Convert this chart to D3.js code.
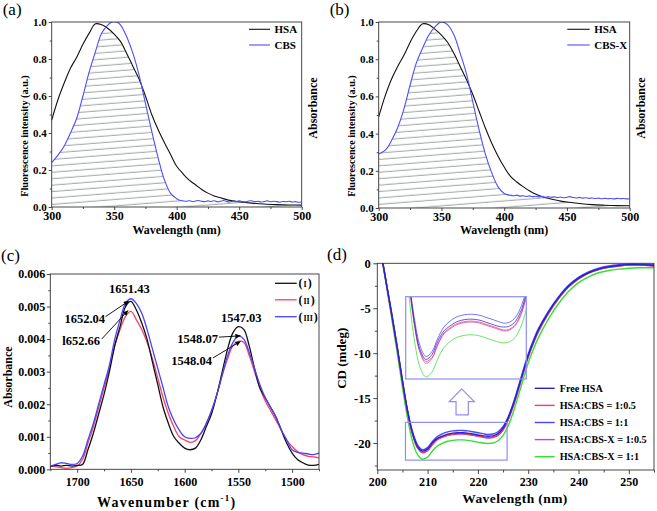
<!DOCTYPE html>
<html><head><meta charset="utf-8">
<script src="https://cdn.jsdelivr.net/npm/d3@7"></script>
<style>body{margin:0;background:#fff}svg{display:block}</style>
</head><body><svg id="c" width="657" height="511"></svg>
<script>
// ---------------- DATA ----------------
// Panel (a)
const wlA = [300,305,310,315,320,325,330,335,340,345,350,355,360,365,370,375,380,385,390,395,400,405,410,415,420,425,430,435,440,445,450,460,470,480,490,500];
const hsaA = [0.47,0.58,0.67,0.75,0.81,0.88,0.94,0.99,0.985,0.965,0.935,0.895,0.83,0.76,0.69,0.60,0.50,0.42,0.35,0.285,0.22,0.18,0.145,0.12,0.095,0.075,0.06,0.05,0.04,0.033,0.028,0.021,0.016,0.013,0.011,0.01];
const wlCbsA = [300,305,310,315,320,325,330,335,340,345,348,352,355,360,365,370,375,380,385,390,395,400,402.5,405,407.5,410,412.5,415,417.5,420,422.5,425,427.5,430,432.5,435,437.5,440,442.5,445,447.5,450,452.5,455,457.5,460,462.5,465,467.5,470,472.5,475,477.5,480,482.5,485,487.5,490,492.5,495,497.5,500];
const cbsA = [0.24,0.28,0.33,0.40,0.48,0.60,0.73,0.84,0.94,0.985,1.0,1.0,0.985,0.92,0.83,0.71,0.56,0.41,0.27,0.15,0.075,0.045,0.036,0.033,0.031,0.034,0.030,0.032,0.035,0.031,0.029,0.033,0.030,0.034,0.028,0.031,0.035,0.030,0.027,0.032,0.029,0.033,0.030,0.028,0.032,0.034,0.029,0.031,0.027,0.030,0.033,0.028,0.031,0.029,0.026,0.030,0.028,0.031,0.027,0.029,0.026,0.027];
// Panel (b)
const wlB = [300,305,310,315,320,325,330,335,340,345,350,355,360,365,370,375,380,385,390,395,400,405,410,415,420,425,430,435,440,445,450,460,470,480,490,500];
const hsaB = [0.49,0.60,0.69,0.76,0.82,0.89,0.95,0.99,0.985,0.96,0.93,0.89,0.83,0.76,0.69,0.61,0.52,0.43,0.35,0.28,0.22,0.17,0.14,0.115,0.093,0.075,0.062,0.052,0.044,0.037,0.032,0.024,0.018,0.015,0.013,0.0125];
const wlCbsB = [300,305,307.5,310,315,320,325,330,335,340,345,350,355,360,365,370,375,380,385,390,395,400,402.5,405,407.5,410,412.5,415,417.5,420,422.5,425,427.5,430,432.5,435,437.5,440,442.5,445,447.5,450,452.5,455,457.5,460,462.5,465,467.5,470,472.5,475,477.5,480,482.5,485,487.5,490,492.5,495,497.5,500];
const cbsB = [0.29,0.31,0.33,0.36,0.43,0.53,0.66,0.78,0.86,0.93,0.975,1.0,0.985,0.93,0.83,0.72,0.57,0.42,0.29,0.19,0.115,0.078,0.072,0.068,0.066,0.069,0.064,0.066,0.062,0.065,0.061,0.063,0.060,0.062,0.058,0.061,0.057,0.060,0.056,0.059,0.055,0.058,0.061,0.056,0.054,0.057,0.053,0.055,0.052,0.054,0.051,0.053,0.050,0.052,0.050,0.051,0.049,0.052,0.050,0.051,0.049,0.050];
const ticksAB_x = [300,350,400,450,500];
const ticksAB_y = [0,0.2,0.4,0.6,0.8,1.0];

// Panel (c)
const wnC = [1725,1720,1715,1710,1705,1700,1695,1690,1685,1680,1675,1670,1665,1660,1655,1650,1645,1640,1635,1630,1625,1620,1615,1610,1605,1600,1595,1590,1585,1580,1575,1570,1565,1560,1555,1550,1545,1540,1535,1530,1525,1520,1515,1510,1505,1500,1495,1490,1485,1480,1475];
const absI = [0.00008,0.00012,0.0001,0.00012,0.0001,0.00012,0.00015,0.0006,0.0011,0.0017,0.0023,0.003,0.0038,0.0044,0.0050,0.00516,0.0049,0.0045,0.0040,0.0033,0.0026,0.0019,0.0014,0.0010,0.0008,0.00065,0.0006,0.00065,0.0009,0.0013,0.0017,0.0023,0.003,0.0037,0.0042,0.00438,0.0043,0.0038,0.0031,0.0025,0.0022,0.0019,0.0016,0.0012,0.0008,0.0005,0.0003,0.0002,0.00013,0.00012,0.00015];
const absII = [0.0001,0.00008,0.00005,0.00003,0.00005,0.0001,0.0003,0.0008,0.0013,0.0019,0.0025,0.0031,0.0038,0.0043,0.0047,0.00485,0.0046,0.0043,0.0039,0.0034,0.0028,0.0022,0.0017,0.0013,0.001,0.0009,0.00083,0.00088,0.0011,0.0014,0.0018,0.0023,0.0029,0.0034,0.0038,0.00393,0.0039,0.0035,0.003,0.0025,0.0021,0.0018,0.0015,0.0012,0.0009,0.0007,0.00055,0.00045,0.0004,0.00038,0.00035];
const absIII = [0.0001,0.00015,0.0002,0.00018,0.00015,0.00018,0.0004,0.0009,0.0014,0.002,0.0026,0.0032,0.004,0.0046,0.0051,0.00524,0.0051,0.0048,0.0043,0.0037,0.0031,0.0025,0.0019,0.0015,0.0012,0.001,0.00095,0.00097,0.0011,0.0014,0.0018,0.0023,0.0029,0.0035,0.0039,0.0041,0.004,0.0036,0.0031,0.0026,0.0022,0.0019,0.0016,0.0012,0.0009,0.0006,0.00052,0.0005,0.00047,0.00045,0.0005];
const seriesC = ["(I)","(II)","(III)"];
const ticksC_x = [1700,1650,1600,1550,1500];
const ticksC_y = [0,0.001,0.002,0.003,0.004,0.005,0.006];
// peak labels: text, peak position, label anchor (data units)
const peakLabels = ["1651.43","1652.04","l652.66","1547.03","1548.07","1548.04"];
const peakX = [1651.43,1652.04,1652.66,1547.03,1548.07,1548.04];
const peakY = [0.00524,0.00517,0.00488,0.00438,0.0041,0.00393];
const labelX = [1651.43,1674.1,1678.7,1547.3,1569,1574.6];
const labelY = [0.00542,0.00449,0.00382,0.00453,0.00388,0.0032];
const arrowFromX = [null,1673.6,1677.2,null,1568.1,1573.7];
const arrowFromY = [null,0.00469,0.0040,null,0.00406,0.00342];

// Panel (d)
const wlD = [200,201,202,203,204,205,206,207,208,209,210,211,212,213,214,215,216,217,218,219,220,221,222,223,224,225,226,227,228,229,230,231,232,234,236,238,240,242,244,246,248,250,252,255];
const cdFree = [3.0,0.3,-2.9,-6.1,-9.5,-13.1,-16.4,-18.9,-20.4,-20.9,-20.65,-19.95,-19.45,-19.2,-19.0,-18.9,-18.85,-18.85,-18.9,-19.0,-19.1,-19.2,-19.25,-19.2,-18.95,-18.35,-17.25,-15.75,-13.95,-12.05,-10.25,-8.75,-7.45,-5.45,-3.85,-2.55,-1.65,-1.05,-0.65,-0.4,-0.25,-0.15,-0.15,-0.25];
const cdCbs05 = [3.0,0.3,-2.9,-6.2,-9.6,-13.2,-16.5,-19.0,-20.5,-21.0,-20.8,-20.1,-19.55,-19.3,-19.1,-19.0,-18.95,-18.95,-19.0,-19.1,-19.2,-19.3,-19.4,-19.35,-19.1,-18.5,-17.4,-15.9,-14.1,-12.2,-10.4,-8.9,-7.6,-5.6,-3.95,-2.65,-1.75,-1.1,-0.7,-0.45,-0.3,-0.2,-0.2,-0.3];
const cdCbs1 = [3.0,0.35,-2.8,-6.0,-9.4,-13.0,-16.3,-18.7,-20.2,-20.75,-20.5,-19.8,-19.25,-18.95,-18.75,-18.65,-18.6,-18.6,-18.65,-18.75,-18.85,-18.95,-19.05,-19.0,-18.75,-18.15,-17.1,-15.6,-13.8,-11.9,-10.1,-8.6,-7.3,-5.35,-3.75,-2.45,-1.55,-0.95,-0.55,-0.3,-0.15,-0.08,-0.08,-0.15];
const cdCbsx05 = [3.0,0.3,-2.9,-6.2,-9.6,-13.2,-16.5,-19.0,-20.55,-21.1,-20.85,-20.15,-19.6,-19.35,-19.15,-19.05,-19.0,-19.0,-19.05,-19.15,-19.25,-19.35,-19.45,-19.4,-19.15,-18.55,-17.45,-15.95,-14.15,-12.25,-10.45,-8.95,-7.65,-5.6,-3.95,-2.65,-1.75,-1.1,-0.7,-0.45,-0.3,-0.2,-0.2,-0.3];
const cdCbsx1 = [3.0,0.2,-3.2,-6.6,-10.1,-13.8,-17.2,-19.8,-21.3,-21.8,-21.55,-20.85,-20.3,-20.0,-19.8,-19.7,-19.65,-19.65,-19.7,-19.8,-19.9,-20.0,-20.05,-20.0,-19.75,-19.15,-18.1,-16.6,-14.8,-12.9,-11.1,-9.6,-8.3,-6.2,-4.5,-3.15,-2.15,-1.5,-1.05,-0.8,-0.65,-0.55,-0.5,-0.5];
const seriesD = ["Free HSA","HSA:CBS = 1:0.5","HSA:CBS = 1:1","HSA:CBS-X = 1:0.5","HSA:CBS-X = 1:1"];
const ticksD_x = [200,210,220,230,240,250];
const ticksD_y = [0,-5,-10,-15,-20];
const zoomWin = [205.6,225.8,-21.9,-17.7];      // region magnified in inset
const bigArrowX = [216.78,219.28,218.09,218.09,215.65,215.65,214.31];
const bigArrowY = [-13.98,-15.39,-15.39,-16.87,-16.87,-15.39,-15.39];

// ---------------- DRAWING ----------------
const FONT = "'Liberation Serif','Times New Roman',serif";
const svg = d3.select("#c");
const defs = svg.append("defs");
const cv = d3.curveCatmullRom.alpha(0.5);
const AX = "#333";

function range(a,b,s){const r=[];for(let v=a;v<=b+1e-9;v+=s)r.push(+v.toFixed(6));return r;}

function axes(g, x, y, o){
  const yb = y.range()[0], xl = x.range()[0];
  const xr = x.range()[1], yt = y.range()[1];
  const ax = g.append("g").attr("transform",`translate(0,${yb})`)
    .call(d3.axisBottom(x).tickValues(o.xMajor).tickSize(o.tick).tickPadding(o.xPad).tickFormat(o.xFmt));
  const am = g.append("g").attr("transform",`translate(0,${yb})`)
    .call(d3.axisBottom(x).tickValues(o.xMinor).tickSize(o.minor).tickFormat(""));
  const ay = g.append("g").attr("transform",`translate(${xl},0)`)
    .call(d3.axisLeft(y).tickValues(o.yMajor).tickSize(o.tick).tickPadding(o.yPad).tickFormat(o.yFmt));
  const aym = g.append("g").attr("transform",`translate(${xl},0)`)
    .call(d3.axisLeft(y).tickValues(o.yMinor).tickSize(o.minor).tickFormat(""));
  [ax,am,ay,aym].forEach(a=>{a.select(".domain").remove();a.selectAll("line").attr("stroke",AX).attr("stroke-width",0.9);});
  ax.selectAll("text").attr("font-family",FONT).attr("font-weight","bold").attr("font-size",o.xFont).attr("fill","#000");
  ay.selectAll("text").attr("font-family",FONT).attr("font-weight","bold").attr("font-size",o.yFont).attr("fill","#000");
  g.append("rect").attr("x",xl).attr("y",yt).attr("width",xr-xl).attr("height",yb-yt)
    .attr("fill","none").attr("stroke",AX).attr("stroke-width",0.9);
}
function txt(g,s,x,y,size,opt={}){
  const t=g.append("text").attr("x",x).attr("y",y).attr("font-family",FONT).attr("font-size",size)
    .attr("font-weight",opt.normal?"normal":"bold").attr("text-anchor",opt.anchor||"start").attr("fill","#000").text(s);
  if(opt.rot) t.attr("x",null).attr("y",null).attr("transform",`translate(${x},${y}) rotate(-90)`);
  if(opt.ls) t.attr("letter-spacing",opt.ls);
  return t;
}
function clipRect(id,x,y){
  defs.append("clipPath").attr("id",id).append("rect")
   .attr("x",x.range()[0]).attr("y",y.range()[1])
   .attr("width",x.range()[1]-x.range()[0]).attr("height",y.range()[0]-y.range()[1]);
}

// hatch pattern
const pat = defs.append("pattern").attr("id","hatch").attr("patternUnits","userSpaceOnUse")
  .attr("width",80).attr("height",6.4).attr("patternTransform","rotate(-4.5)");
pat.append("line").attr("x1",0).attr("x2",80).attr("y1",3).attr("y2",3).attr("stroke","#7b8686").attr("stroke-width",0.8);

// ---- panels (a) and (b)
function fluoPanel(id, left, right, top, bottom, wl, hsa, wlC, cbs, name, label, lx0, lx1){
  const g = svg.append("g");
  const x = d3.scaleLinear().domain([300,500]).range([left,right]);
  const y = d3.scaleLinear().domain([0,1]).range([bottom,top]);
  clipRect("plot"+id,x,y);
  const dH = wl.map((w,i)=>[w,hsa[i]]);
  const dC = wlC.map((w,i)=>[w,cbs[i]]);
  const area = d3.area().x(d=>x(d[0])).y0(y(0)).y1(d=>y(d[1])).curve(cv);
  defs.append("clipPath").attr("id","h1"+id).append("path").attr("d",area(dH));
  defs.append("clipPath").attr("id","h2"+id).append("path").attr("d",area(dC));
  g.append("g").attr("clip-path",`url(#h1${id})`).append("g").attr("clip-path",`url(#h2${id})`)
    .append("rect").attr("x",left).attr("y",top).attr("width",right-left).attr("height",bottom-top).attr("fill","url(#hatch)");
  const line = d3.line().x(d=>x(d[0])).y(d=>y(d[1])).curve(cv);
  const pg = g.append("g").attr("clip-path",`url(#plot${id})`);
  pg.append("path").attr("d",line(dH)).attr("fill","none").attr("stroke","#111").attr("stroke-width",1.1);
  pg.append("path").attr("d",line(dC)).attr("fill","none").attr("stroke","#4d4dff").attr("stroke-width",1.1);
  axes(g,x,y,{xMajor:ticksAB_x,xMinor:range(325,475,50),yMajor:ticksAB_y,yMinor:range(0.1,0.9,0.2),
    tick:3,minor:2,xPad:1.5,yPad:2,xFont:12,yFont:11,xFmt:d=>d,yFmt:d3.format(".1f")});
  // legend
  [["HSA","#111"],[name,"#4d4dff"]].forEach((s,i)=>{
    const ly = 29.3+i*15.7;
    g.append("line").attr("x1",lx0).attr("x2",lx1).attr("y1",ly).attr("y2",ly).attr("stroke",s[1]).attr("stroke-width",1.1);
    txt(g,s[0],lx1+4.5,ly+3.8,11);
  });
  txt(g,"Wavelength (nm)",(left+right)/2,233.5,12,{anchor:"middle"});
  txt(g,"Fluorescence intensity (a.u.)",left-24.2,136,10.2,{anchor:"middle",rot:true});
  txt(g,"Absorbance",right+14.8,108,12,{anchor:"middle",rot:true});
  txt(g,label,left-49,15,17,{normal:true});
}
fluoPanel("a",51.7,301.7,22,207,wlA,hsaA,wlCbsA,cbsA,"CBS","(a)",249,270);
fluoPanel("b",378.7,629.7,22,208,wlB,hsaB,wlCbsB,cbsB,"CBS-X","(b)",567.3,589.7);

// ---- panel (c)
{
  const g = svg.append("g");
  const x = d3.scaleLinear().domain([1725,1475]).range([50.3,319]);
  const y = d3.scaleLinear().domain([0,0.006]).range([469.3,274]);
  clipRect("plotc",x,y);
  const cols = ["#111","#ff3f62","#4444ff"];
  const sets = [absI,absII,absIII];
  const line = d3.line().x(d=>x(d[0])).y(d=>y(d[1])).curve(cv);
  const pg = g.append("g").attr("clip-path","url(#plotc)");
  [1,0,2].forEach(k=>{
    pg.append("path").attr("d",line(wnC.map((w,i)=>[w,sets[k][i]]))).attr("fill","none").attr("stroke",cols[k]).attr("stroke-width",1.3);
  });
  axes(g,x,y,{xMajor:ticksC_x,xMinor:[1725,1675,1625,1575,1525,1475],yMajor:ticksC_y,yMinor:range(0.0005,0.0055,0.001),
    tick:3.5,minor:2,xPad:5,yPad:1.5,xFont:12,yFont:12,xFmt:d=>d,yFmt:d3.format(".3f")});
  // legend
  seriesC.forEach((s,i)=>{
    const ly=[283.3,299.8,316.7][i];
    g.append("line").attr("x1",275).attr("x2",296.7).attr("y1",ly).attr("y2",ly).attr("stroke",cols[i]).attr("stroke-width",1.3);
    const t=txt(g,"(",298.5,ly+4,12);
    t.append("tspan").attr("font-size",8).attr("dx",1).text(s.slice(1,-1));
    t.append("tspan").attr("dx",1).text(")");
  });
  // peak annotations
  const mk = defs.append("marker").attr("id","arr").attr("viewBox","0 0 10 10").attr("refX",10).attr("refY",5)
    .attr("markerWidth",6).attr("markerHeight",5).attr("orient","auto").attr("markerUnits","userSpaceOnUse");
  mk.append("path").attr("d","M0,0L10,5L0,10z").attr("fill","#000");
  peakLabels.forEach((s,i)=>{
    const anchor = arrowFromX[i]===null?"middle":"end";
    txt(g,s,x(labelX[i]),y(labelY[i]),12.5,{anchor});
    if(arrowFromX[i]!==null){
      g.append("line").attr("x1",x(arrowFromX[i])).attr("y1",y(arrowFromY[i]))
        .attr("x2",x(peakX[i])).attr("y2",y(peakY[i])).attr("stroke","#000").attr("stroke-width",0.9).attr("marker-end","url(#arr)");
    }
  });
  const tt = txt(g,"Wavenumber (cm",166.7,507,14,{anchor:"middle",ls:1.2});
  tt.append("tspan").attr("font-size",9).attr("dy",-6).text("-1");
  tt.append("tspan").attr("dy",6).text(")");
  txt(g,"Absorbance",12,377,12,{anchor:"middle",rot:true});
  txt(g,"(c)",1,261,17,{normal:true});
}

// ---- panel (d)
{
  const g = svg.append("g");
  const x = d3.scaleLinear().domain([200,255]).range([377.3,654]);
  const y = d3.scaleLinear().domain([-23,0]).range([470,263.3]);
  clipRect("plotd",x,y);
  const cols = ["#2424c8","#ff3a5c","#4747ff","#c444c4","#33e033"];
  const sets = [cdFree,cdCbs05,cdCbs1,cdCbsx05,cdCbsx1];
  const order = [4,3,1,2,0];
  const line = d3.line().x(d=>x(d[0])).y(d=>y(d[1])).curve(cv);
  const pg = g.append("g").attr("clip-path","url(#plotd)");
  order.forEach(k=>{
    pg.append("path").attr("d",line(wlD.map((w,i)=>[w,sets[k][i]]))).attr("fill","none").attr("stroke",cols[k]).attr("stroke-width",1.4);
  });
  axes(g,x,y,{xMajor:ticksD_x,xMinor:range(205,255,10),yMajor:ticksD_y,yMinor:[-2.5,-7.5,-12.5,-17.5,-22.5],
    tick:4,minor:2.5,xPad:3.5,yPad:2.6,xFont:12,yFont:12.5,xFmt:d=>d,yFmt:d=>String(d)});
  const BOX = "#8e8ef2";
  // small window
  g.append("rect").attr("x",x(zoomWin[0])).attr("y",y(zoomWin[3])).attr("width",x(zoomWin[1])-x(zoomWin[0]))
    .attr("height",y(zoomWin[2])-y(zoomWin[3])).attr("fill","none").attr("stroke",BOX).attr("stroke-width",1.2);
  // inset
  const xi = d3.scaleLinear().domain([zoomWin[0],zoomWin[1]]).range([405.7,526.3]);
  const yi = d3.scaleLinear().domain([zoomWin[2],zoomWin[3]]).range([379,296.7]);
  clipRect("inset",xi,yi);
  const li = d3.line().x(d=>xi(d[0])).y(d=>yi(d[1])).curve(cv);
  const ig = g.append("g").attr("clip-path","url(#inset)");
  order.forEach(k=>{
    ig.append("path").attr("d",li(wlD.map((w,i)=>[w,sets[k][i]]))).attr("fill","none").attr("stroke",cols[k]).attr("stroke-width",1).attr("stroke-opacity",0.75);
  });
  g.append("rect").attr("x",405.7).attr("y",296.7).attr("width",526.3-405.7).attr("height",379-296.7)
    .attr("fill","none").attr("stroke",BOX).attr("stroke-width",1.2);
  // hollow arrow
  g.append("polygon").attr("points",bigArrowX.map((v,i)=>[x(v),y(bigArrowY[i])].join(",")).join(" "))
    .attr("fill","#fff").attr("stroke",BOX).attr("stroke-width",1.2);
  // legend
  seriesD.forEach((s,i)=>{
    const ly = 388.3+i*17.1;
    g.append("line").attr("x1",534.7).attr("x2",554.7).attr("y1",ly).attr("y2",ly).attr("stroke",cols[i]).attr("stroke-width",1.4);
    txt(g,s,559.7,ly+3.6,10.2);
  });
  txt(g,"Wavelength (nm)",515,503,13.5,{anchor:"middle",ls:0.4});
  txt(g,"CD (mdeg)",346,358.3,13,{anchor:"middle",rot:true});
  txt(g,"(d)",327,260,17,{normal:true});
}
</script></body></html>
